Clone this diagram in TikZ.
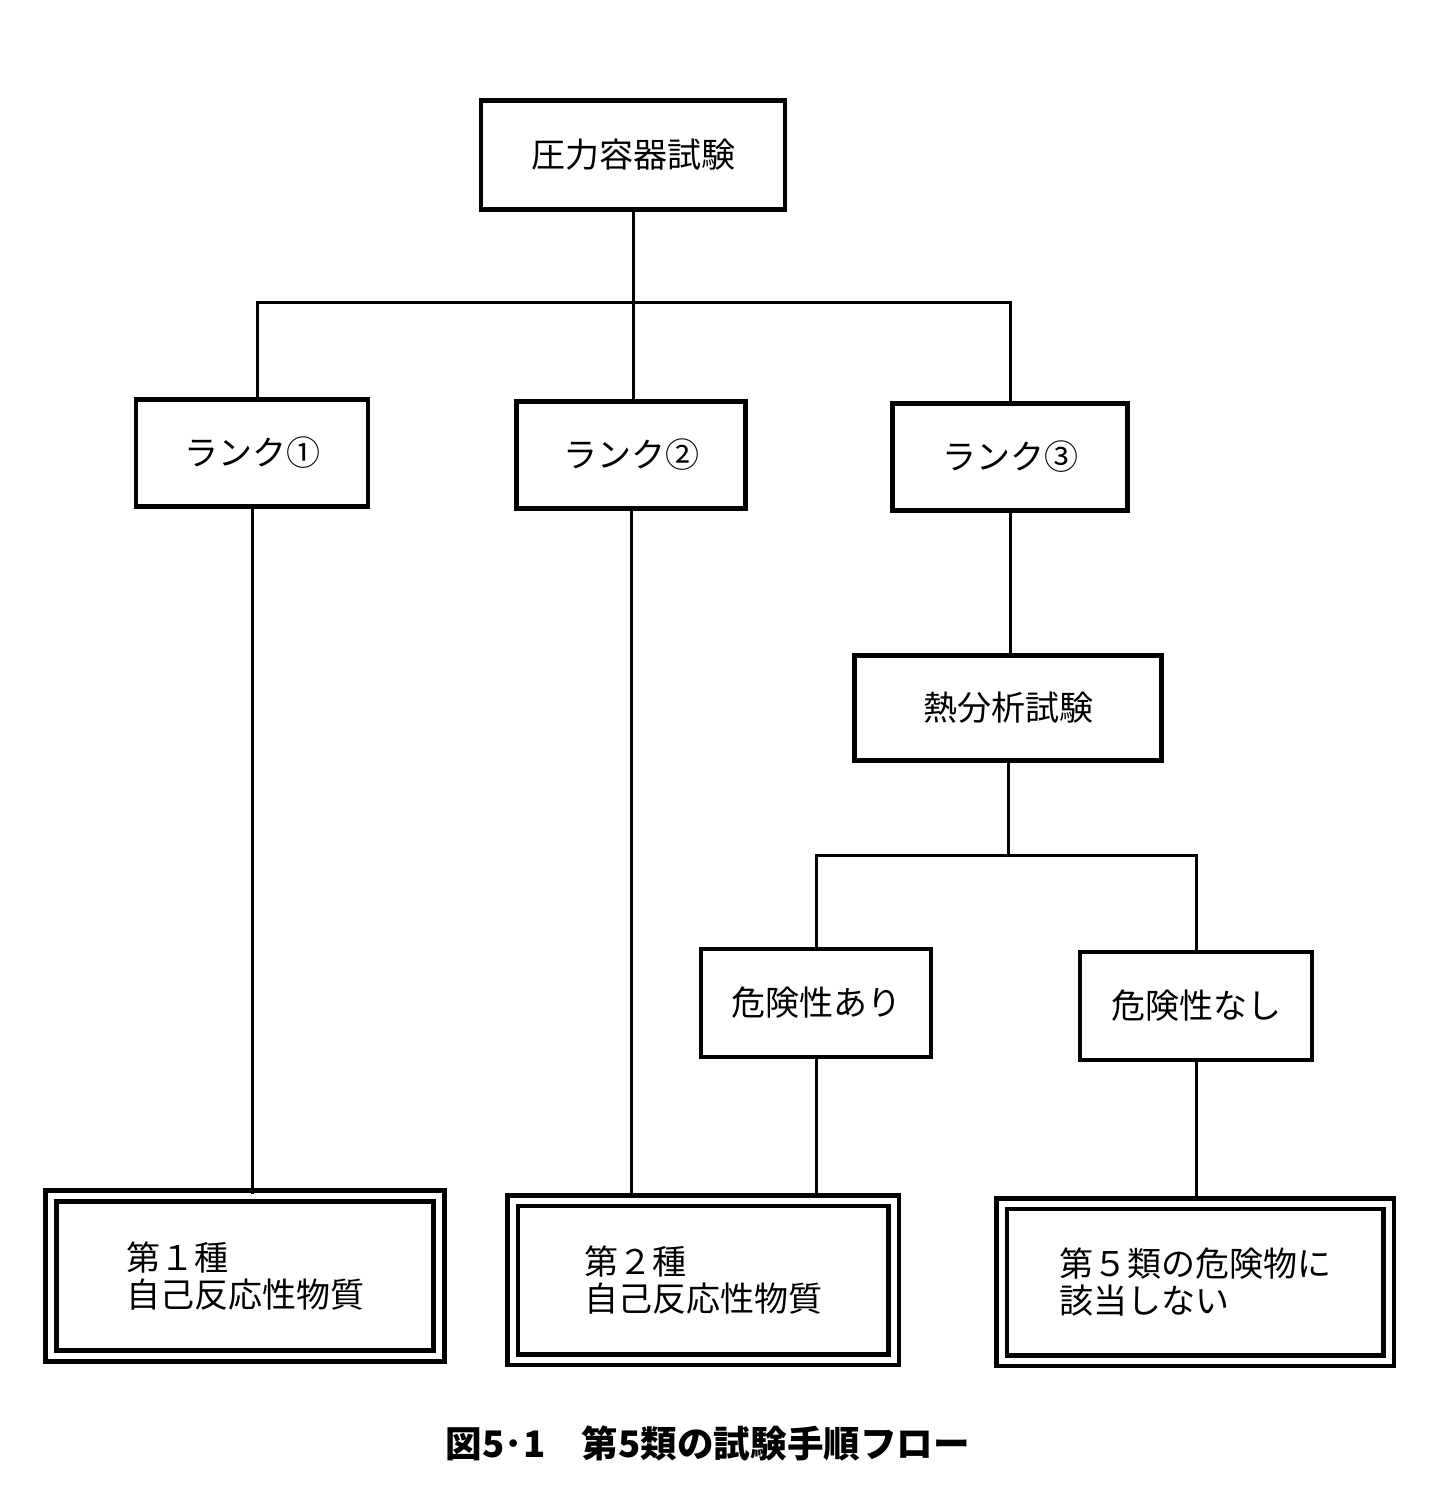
\documentclass[tikz,border=0pt]{standalone}
\usepackage{fontspec}
\usepackage{xcolor}
\usepackage{tikz}
\newfontfamily\jpfont{Noto Sans CJK JP}

\begin{document}
\begin{tikzpicture}[x=0.5pt, y=-0.5pt,
  box/.style={rectangle, draw, line width=2.2pt, inner sep=0pt, font=\jpfont\fontsize{17}{19}\selectfont},
  finalbox/.style={rectangle, draw, line width=2.4pt, double, double distance=3pt, inner sep=0pt, align=left, font=\jpfont\fontsize{17}{18.5}\selectfont},
  conn/.style={line width=1.5pt}]
\useasboundingbox[fill=white] (0,0) rectangle (1438,1502);

\node[box, minimum width=152pt, minimum height=54.5pt] (top) at (633,155) {圧力容器試験};
\node[box, minimum width=116pt, minimum height=53.5pt] (r1) at (252,453) {ランク①};
\node[box, minimum width=114.5pt, minimum height=53.5pt] (r2) at (631,455) {ランク②};
\node[box, minimum width=117.5pt, minimum height=53.5pt] (r3) at (1010,457) {ランク③};
\node[box, minimum width=153.5pt, minimum height=52.5pt] (heat) at (1008,708) {熱分析試験};
\node[box, minimum width=115pt, minimum height=54pt] (yes) at (816,1003) {危険性あり};
\node[box, minimum width=116pt, minimum height=54pt] (no) at (1196,1006) {危険性なし};

\node[finalbox, minimum width=194pt, minimum height=80pt] (f1) at (245,1276) {第１種\\自己反応性物質};
\node[finalbox, minimum width=190.5pt, minimum height=79.5pt] (f2) at (703,1280) {第２種\\自己反応性物質};
\node[finalbox, minimum width=193.5pt, minimum height=78.5pt] (f3) at (1195,1282) {第５類の危険物に\\該当しない};

\node[font=\jpfont\bfseries\fontsize{18.3}{20}\selectfont, inner sep=0pt] (cap) at (708,1443) {図5･1　第5類の試験手順フロー};

\coordinate (split1) at (633,303);
\coordinate (split2) at (1008,855);

\draw[conn] (top.south) -- (top.south |- r2.north);
\draw[conn] ([xshift=2.5pt]r1.north) |- (split1) -| (r3.north);
\draw[conn] (r1.south) -- (r1.south |- f1.north);
\draw[conn] (r2.south) -- (r2.south |- f2.north);
\draw[conn] (r3.south) -- (r3.south |- heat.north);
\draw[conn] (heat.south) -- (split2);
\draw[conn] (yes.north) |- (split2) -| (no.north);
\draw[conn] (yes.south) -- (yes.south |- f2.north);
\draw[conn] (no.south) -- (no.south |- f3.north);
\end{tikzpicture}
\end{document}
